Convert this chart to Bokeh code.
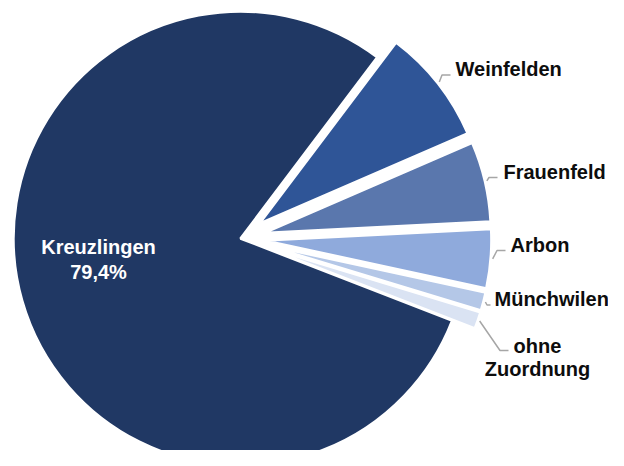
import math
from bokeh.plotting import figure
from bokeh.models import Range1d, ColumnDataSource
from bokeh.core.properties import value
from bokeh.embed import file_html
from bokeh.resources import INLINE

# ---- data ----
categories = ["Kreuzlingen", "Weinfelden", "Frauenfeld", "Arbon", "Münchwilen", "ohne Zuordnung"]
shares = [79.4, 8.2, 5.7, 4.2, 1.3, 1.2]
colors = ["#203864", "#2F5597", "#5A77AD", "#8FAADC", "#B4C7E7", "#DAE3F3"]

# ---- layout ----
W, H = 608, 450
PAGE_H = 466
TXT_SHIFT = -7   # baseline correction for text rendering


def Y(py):
    return PAGE_H - py


def TY(py):
    return PAGE_H - (py + TXT_SHIFT)


cx, cy = 240.0, Y(238)
R = 227.0
theta0 = -21.2          # start angle of first slice, slices run clockwise
explode = [0, 24, 24, 24, 24, 24]

total = sum(shares)
xs, ys, starts, ends, mids = [], [], [], [], []
cum = 0.0
for v, e in zip(shares, explode):
    s_cw = theta0 - cum / total * 360.0
    e_cw = s_cw - v / total * 360.0
    mid = (s_cw + e_cw) / 2.0
    xs.append(cx + e * math.cos(math.radians(mid)))
    ys.append(cy + e * math.sin(math.radians(mid)))
    starts.append(math.radians(e_cw))
    ends.append(math.radians(s_cw))
    mids.append(mid)
    cum += v

src = ColumnDataSource(dict(x=xs, y=ys, start=starts, end=ends, color=colors, cat=categories))

p = figure(width=W, height=H, output_backend="svg", toolbar_location=None,
           x_range=Range1d(0, W), y_range=Range1d(Y(H), Y(0)),
           min_border=0)
p.axis.visible = False
p.grid.visible = False
p.outline_line_color = None
p.background_fill_color = "white"
p.border_fill_color = "white"

p.wedge(x="x", y="y", radius=R, start_angle="start", end_angle="end",
        fill_color="color", line_color="white", line_width=2.5, source=src)

# leader lines: from arc midpoint to label stub
stub_end = [None, (450, 74.5), (497, 177), (505, 250), (490, 304.5), (508, 350)]
stub_len = [None, 8.5, 8.5, 8.5, 3.5, 8.5]
lx, ly = [], []
for i in range(1, len(categories)):
    a = math.radians(mids[i])
    sx = xs[i] + (R + 2) * math.cos(a)
    sy = ys[i] + (R + 2) * math.sin(a)
    ex, ey = stub_end[i]
    lx.append([sx, ex - stub_len[i], ex])
    ly.append([sy, Y(ey), Y(ey)])
p.multi_line(lx, ly, line_color="#A6A6A6", line_width=1.5)

font = value("Liberation Sans")

# outside labels
lab_x = [455, 503, 510, 494]
lab_y = [75, 178, 251, 305]
p.text(x=lab_x, y=[TY(v) for v in lab_y], text=categories[1:5], text_font=font,
       text_font_style="bold", text_font_size="20px", text_color="#0D0D0D",
       text_align="left", text_baseline="alphabetic")

last = categories[5].split(" ")
p.text(x=[537, 537], y=[TY(352), TY(375)], text=last, text_font=font,
       text_font_style="bold", text_font_size="20px", text_color="#0D0D0D",
       text_align="center", text_baseline="alphabetic")

# inside label
pct = ("%.1f" % shares[0]).replace(".", ",") + "%"
p.text(x=[98, 98], y=[TY(253), TY(278)], text=[categories[0], pct], text_font=font,
       text_font_style="bold", text_font_size="20px", text_color="white",
       text_align="center", text_baseline="alphabetic")

open("out.html", "w").write(file_html(p, INLINE))
